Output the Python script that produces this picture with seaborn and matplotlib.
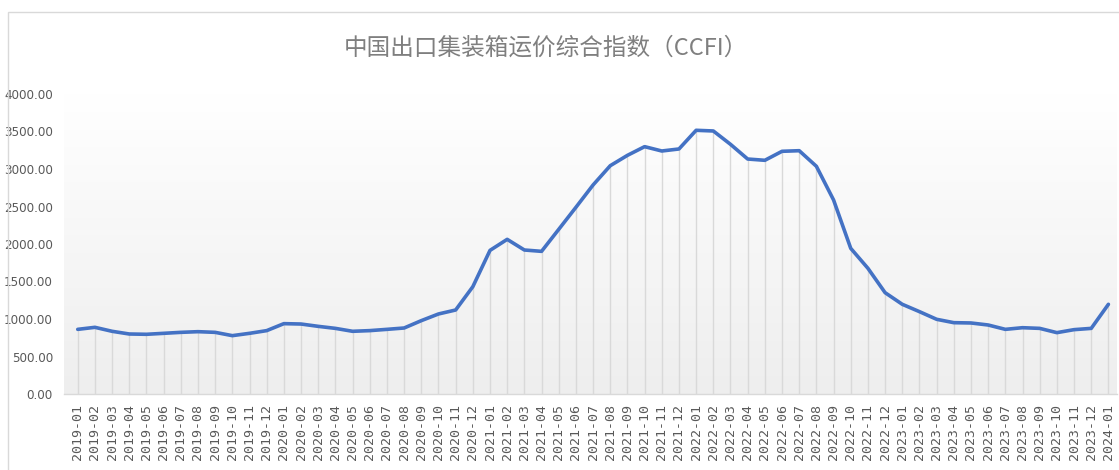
import numpy as np
import pandas as pd
import matplotlib
matplotlib.use("Agg")
import matplotlib.pyplot as plt
from matplotlib import font_manager
from matplotlib.patches import Rectangle
from matplotlib.colors import LinearSegmentedColormap
import seaborn as sns

# ---- data ----
months = [f"{y}-{m:02d}" for y in range(2019, 2024) for m in range(1, 13)] + ["2024-01"]
ccfi = [862, 889, 836, 800, 796, 809, 822, 831, 822, 778, 809, 845,
        938, 933, 902, 875, 836, 845, 862, 880, 978, 1067, 1120, 1431,
        1915, 2062, 1920, 1902, 2195, 2489, 2787, 3044, 3182, 3298, 3240, 3267,
        3516, 3507, 3329, 3133, 3116, 3236, 3244, 3036, 2587, 1942, 1676, 1351,
        1196, 1098, 996, 951, 947, 920, 862, 884, 875, 818, 858, 875,
        1196]
yticks = [0, 500, 1000, 1500, 2000, 2500, 3000, 3500, 4000]
title = "中国出口集装箱运价综合指数（CCFI）"

df = pd.DataFrame({"pos": np.arange(len(months)), "month": months, "value": ccfi})

sns.set_theme(style="white")
fonts = font_manager.fontManager.ttflist
narrow = [f for f in fonts if f.name == "DejaVu Sans" and f.stretch == "condensed"]
plt.rcParams['font.family'] = ['Noto Sans CJK SC', 'DejaVu Sans']

fig = plt.figure(figsize=(11.19, 4.70), dpi=100)
fig.patch.set_facecolor("white")
# outer chart frame
fig.patches.append(Rectangle((8/1119, -0.1), 1.2, (470-12)/470 + 0.1, transform=fig.transFigure,
                             fill=False, edgecolor="#d9d9d9", linewidth=1.0))

ax = fig.add_axes([64/1119, 76/470, (1117-64)/1119, 300/470])

# gradient background
cmap = LinearSegmentedColormap.from_list("g", ["#ffffff", "#eeeeee"])
grad = np.linspace(0, 1, 256).reshape(-1, 1)
ax.imshow(grad, cmap=cmap, aspect="auto", extent=[0, 1, 0, 1], transform=ax.transAxes,
          zorder=0, interpolation="bicubic")

# drop lines
ax.vlines(df["pos"], 0, df["value"], color="#d9d9d9", linewidth=1.0, zorder=1)
sns.lineplot(data=df, x="pos", y="value", ax=ax, color="#4472C4", linewidth=2.6,
             zorder=3, sort=False)

ax.set_xlim(-0.8, len(months) - 0.5)
ax.set_ylim(0, 4000)
ax.set_yticks(yticks)
if narrow:
    ax.set_yticklabels([f"{v:.2f}" for v in yticks], family="DejaVu Sans",
                       fontstretch="condensed", fontsize=9.5, color="#595959")
else:
    ax.set_yticklabels([f"{v:.2f}" for v in yticks], family="DejaVu Sans",
                       fontsize=8.5, color="#595959")
ax.set_xticks(df["pos"])
ax.set_xticklabels(months, rotation=90, family="DejaVu Sans Mono", fontsize=9.5, color="#595959")
ax.tick_params(axis="both", length=0)
ax.tick_params(axis="y", pad=8)
ax.tick_params(axis="x", pad=7)
ax.set_xlabel("")
ax.set_ylabel("")
for s in ["top", "right", "left"]:
    ax.spines[s].set_visible(False)
ax.spines["bottom"].set_color("#d9d9d9")
ax.spines["bottom"].set_linewidth(1.0)
ax.grid(False)

fig.text(546/1119, 1 - 48/470, title, ha="center", va="center", fontsize=17,
         color="#7f7f7f", family=['Noto Sans CJK SC', 'DejaVu Sans'], fontweight="light")

fig.savefig("out.png", dpi=100)
